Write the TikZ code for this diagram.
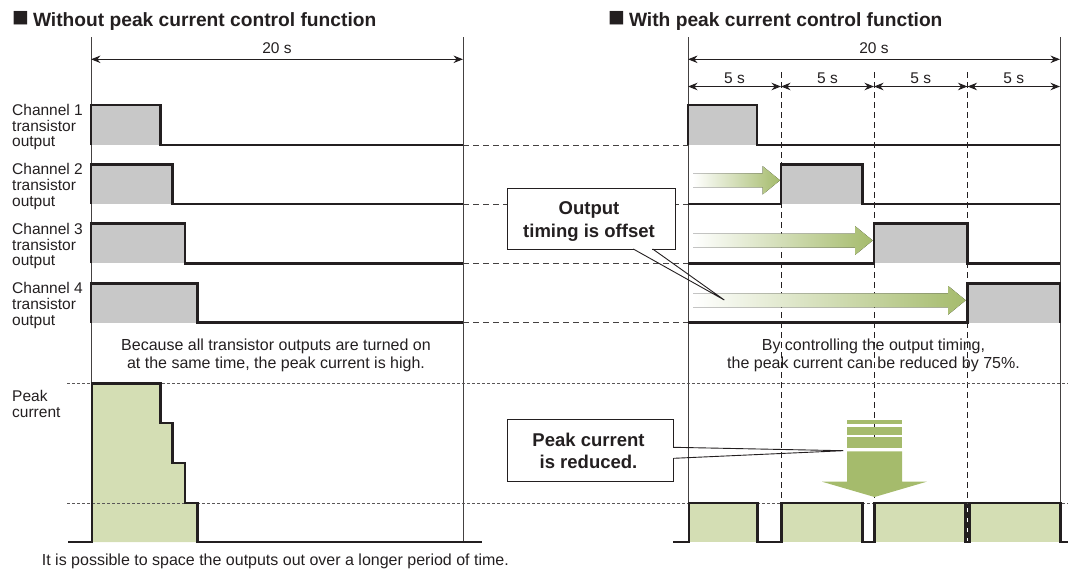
\documentclass[tikz,border=0pt]{standalone}
\usepackage{fontspec}
\usepackage{graphicx}
\setmainfont{Liberation Sans}
\usetikzlibrary{arrows.meta}
\definecolor{agreen}{RGB}{165,187,108}
\definecolor{lgreen}{RGB}{212,222,180}
\definecolor{pgray}{RGB}{200,200,200}
\definecolor{ink}{RGB}{35,31,32}
\newcommand{\bigsq}{\scalebox{1.45}{■}}
\begin{document}
\begin{tikzpicture}[x=1pt,y=-1pt,
  wave/.style={line width=2.6pt, draw=ink, line join=miter},
  vline/.style={line width=1pt, draw=ink!85},
  dimline/.style={line width=1pt, draw=ink, {Stealth[length=9.5pt,width=7.5pt]}-{Stealth[length=9.5pt,width=7.5pt]}},
  conn/.style={line width=1pt, draw=ink!85, dash pattern=on 6pt off 4pt},
  divline/.style={line width=1pt, draw=ink, dash pattern=on 6pt off 4pt},
  refline/.style={line width=0.8pt, draw=ink!75, dash pattern=on 3pt off 2pt},
  lbl/.style={font=\fontsize{15.5}{15.7}\selectfont, text=ink, align=left, anchor=north west, inner sep=0pt},
  txt/.style={font=\fontsize{16}{17.8}\selectfont, text=ink, align=center, inner sep=0pt},
  dimtxt/.style={font=\fontsize{15.5}{17}\selectfont, text=ink, inner sep=0pt},
  ttl/.style={font=\bfseries\fontsize{19.2}{20}\selectfont, text=ink, anchor=base west, inner sep=0pt},
  calloutbox/.style={draw=ink, line width=1pt, fill=white, inner sep=0pt},
  callouttext/.style={text=ink, font=\bfseries\fontsize{18.5}{22.5}\selectfont, align=center, inner sep=0pt},
  pointer/.style={line width=0.9pt, draw=ink},
]
\useasboundingbox (0,0) rectangle (1068,573);

% titles
\node[ttl] (t1) at (12,26.5) {\bigsq\hspace{4pt}Without peak current control function};
\node[ttl] (t2) at (608,26.5) {\bigsq\hspace{4pt}With peak current control function};

% thin vertical lines
\draw[vline] (91,37) -- (91,542);
\draw[vline] (463,37) -- (463,542);
\draw[vline] (688,37) -- (688,542);
\draw[vline] (1060,37) -- (1060,542);

% dividers
\foreach \x in {781,874,967.5} \draw[divline] (\x,72) -- (\x,542);

% dimension arrows
\draw[dimline] (91,59.3) -- (463,59.3);
\node[dimtxt] (d1) at (277,48) {20 s};
\draw[dimline] (688,59.3) -- (1060,59.3);
\node[dimtxt] (d2) at (874,48) {20 s};
\draw[dimline] (688,86.5) -- (781,86.5);
\draw[dimline] (781,86.5) -- (874,86.5);
\draw[dimline] (874,86.5) -- (967.5,86.5);
\draw[dimline] (967.5,86.5) -- (1060,86.5);
\node[dimtxt] (f1) at (734.5,78) {5 s};
\node[dimtxt] (f2) at (827.5,78) {5 s};
\node[dimtxt] (f3) at (920.7,78) {5 s};
\node[dimtxt] (f4) at (1013.7,78) {5 s};

% channel labels
\node[lbl] (c1) at (12,104) {Channel 1\\transistor\\output};
\node[lbl] (c2) at (12,163.5) {Channel 2\\transistor\\output};
\node[lbl] (c3) at (12,223) {Channel 3\\transistor\\output};
\node[lbl] (c4) at (12,282.5) {Channel 4\\transistor\\output};

% dashed connectors between panels
\foreach \y in {145,204,263.3,322.7} \draw[conn] (463,\y) -- (688,\y);

% left waveforms
\fill[pgray] (91,105) rectangle (160.7,145);
\fill[pgray] (91,164.3) rectangle (172.7,204);
\fill[pgray] (91,223.7) rectangle (185,263.3);
\fill[pgray] (91,283.3) rectangle (197.7,322.7);
\draw[wave] (91,145) -- (91,105) -- (160.7,105) -- (160.7,145) -- (463,145);
\draw[wave] (91,204) -- (91,164.3) -- (172.7,164.3) -- (172.7,204) -- (463,204);
\draw[wave] (91,263.3) -- (91,223.7) -- (185,223.7) -- (185,263.3) -- (463,263.3);
\draw[wave] (91,322.7) -- (91,283.3) -- (197.7,283.3) -- (197.7,322.7) -- (463,322.7);

% right waveforms
\fill[pgray] (688,105) rectangle (757,145);
\fill[pgray] (781,164.3) rectangle (862.3,204);
\fill[pgray] (874,223.7) rectangle (967.5,263.3);
\fill[pgray] (967.5,283.3) rectangle (1060,322.7);
\draw[wave] (688,145) -- (688,105) -- (757,105) -- (757,145) -- (1060,145);
\draw[wave] (688,204) -- (781,204) -- (781,164.3) -- (862.3,164.3) -- (862.3,204) -- (1060,204);
\draw[wave] (688,263.3) -- (874,263.3) -- (874,223.7) -- (967.5,223.7) -- (967.5,263.3) -- (1060,263.3);
\draw[wave] (688,322.7) -- (967.5,322.7) -- (967.5,283.3) -- (1060,283.3) -- (1060,322.7);

% green offset arrows
\fill[left color=white, right color=agreen] (693,173.3) -- (762.5,173.3) -- (762.5,166) -- (780,180.3) -- (762.5,194.6) -- (762.5,187.3) -- (693,187.3) -- cycle;
\fill[left color=white, right color=agreen] (693,233.5) -- (855.2,233.5) -- (855.2,226.2) -- (872.7,240.5) -- (855.2,254.8) -- (855.2,247.5) -- (693,247.5) -- cycle;
\fill[left color=white, right color=agreen] (693,293.3) -- (948.2,293.3) -- (948.2,286) -- (965.7,300.3) -- (948.2,314.6) -- (948.2,307.3) -- (693,307.3) -- cycle;

% explanatory texts
\node[txt] (e1) at (276,355) {Because all transistor outputs are turned on\\at the same time, the peak current is high.};
\node[txt] (e2) at (873.5,355) {By controlling the output timing,\\the peak current can be reduced by 75\%.};

% peak current section
\node[lbl] (pc) at (12,390) {Peak\\current};
\fill[lgreen] (92,542) -- (92,383.3) -- (160.7,383.3) -- (160.7,423) -- (172.7,423) -- (172.7,463) -- (185,463) -- (185,503) -- (197.7,503) -- (197.7,542) -- cycle;
\fill[lgreen] (689,503) rectangle (757.7,542);
\fill[lgreen] (781.5,503) rectangle (862.3,542);
\fill[lgreen] (874.7,503) rectangle (965.7,542);
\fill[lgreen] (969.3,503) rectangle (1060.3,542);
\draw[refline] (67,383.3) -- (1068,383.3);
\draw[refline] (67,503) -- (1068,503);
\draw[wave] (68,542) -- (92,542) -- (92,383.3) -- (160.7,383.3) -- (160.7,423) -- (172.7,423) -- (172.7,463) -- (185,463) -- (185,503) -- (197.7,503) -- (197.7,542) -- (482,542);
\draw[wave] (673,542) -- (689,542) -- (689,503) -- (757.7,503) -- (757.7,542) -- (781.5,542) -- (781.5,503) -- (862.3,503) -- (862.3,542) -- (874.7,542) -- (874.7,503) -- (965.7,503) -- (965.7,542) -- (969.3,542) -- (969.3,503) -- (1060.3,503) -- (1060.3,542) -- (1068,542);

% big reduction arrow
\fill[agreen] (847,420) rectangle (902,423.7);
\fill[agreen] (847,427) rectangle (902,434.7);
\fill[agreen] (847,437) rectangle (902,447.7);
\fill[agreen] (847,451.3) -- (902,451.3) -- (902,481.7) -- (926.7,481.7) -- (874.5,497) -- (822,481.7) -- (847,481.7) -- cycle;

% callouts
\node[calloutbox, minimum width=167.3pt, minimum height=60.7pt] (co1) at (591.4,218.7) {};
\node[callouttext] (co1t) at (589,221.5) {Output\\timing is offset};
\coordinate (p1a) at (633.3,249);
\coordinate (p1b) at (652.7,249);
\coordinate (p1t) at (724.3,300);
\draw[white, line width=1.6pt] ([xshift=0.6pt]p1a) -- ([xshift=-0.6pt]p1b);
\draw[pointer] (p1a) -- (p1t) -- (p1b);

\node[calloutbox, minimum width=166pt, minimum height=62pt] (co2) at (590.7,450) {};
\node[callouttext] (co2t) at (588.5,451) {Peak current\\is reduced.};
\coordinate (p2a) at (673.7,447.3);
\coordinate (p2b) at (673.7,458.3);
\coordinate (p2t) at (843.3,450.7);
\draw[white, line width=1.6pt] ([yshift=-0.6pt]p2a) -- ([yshift=0.6pt]p2b);
\draw[pointer] (p2a) -- (p2t) -- (p2b);

% bottom note
\node[font=\fontsize{16}{17}\selectfont, text=ink, anchor=base west, inner sep=0pt] (note) at (41.7,565) {It is possible to space the outputs out over a longer period of time.};
\end{tikzpicture}
\end{document}
